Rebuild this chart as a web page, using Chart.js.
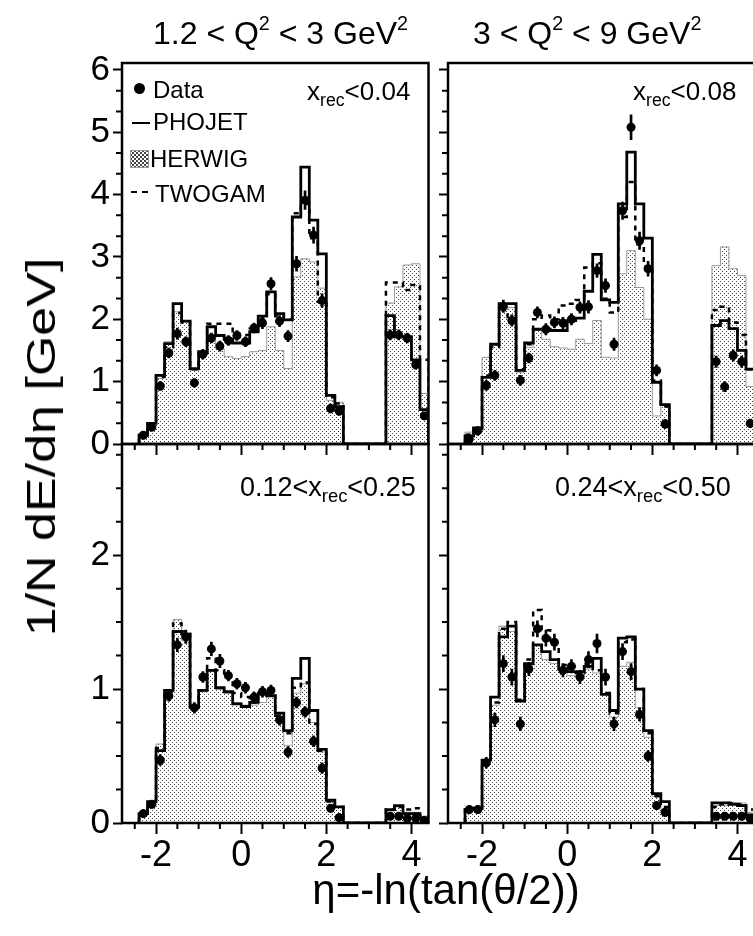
<!DOCTYPE html>
<html>
<head>
<meta charset="utf-8">
<script src="https://cdn.jsdelivr.net/npm/chart.js@4.4.1/dist/chart.umd.min.js"></script>
<style>
  html, body { margin: 0; padding: 0; background: #fff; }
  body { width: 753px; height: 936px; overflow: hidden; position: relative;
         font-family: "Liberation Sans", Arial, sans-serif; color: #000; }
  canvas { position: absolute; }
  .txt { position: absolute; white-space: nowrap; line-height: 1; z-index: 5; }
  .txt sup { font-size: 0.62em; position: relative; top: -0.72em; vertical-align: 0; }
  .txt sub { font-size: 0.68em; position: relative; top: 0.32em; vertical-align: 0; }
  .sw { position: absolute; z-index: 5; }
</style>
</head>
<body>

<canvas id="tl" width="371" height="415" style="left:62px; top:43px"></canvas>
<canvas id="tr" width="325" height="415" style="left:434px; top:43px"></canvas>
<canvas id="bl" width="371" height="459" style="left:62px; top:424px"></canvas>
<canvas id="br" width="325" height="459" style="left:434px; top:424px"></canvas>

<!-- column headings -->
<div class="txt" style="left:153px; top:17px; font-size:32px">1.2 &lt; Q<sup>2</sup> &lt; 3 GeV<sup>2</sup></div>
<div class="txt" style="left:473px; top:17px; font-size:32px">3 &lt; Q<sup>2</sup> &lt; 9 GeV<sup>2</sup></div>

<!-- axis titles -->
<div class="txt" style="left:41px; top:447px; font-size:40px; transform: translate(-50%,-50%) rotate(-90deg) scaleX(1.3);">1/N dE/dη [GeV]</div>
<div class="txt" style="left:446px; top:869px; font-size:42px; transform: translateX(-50%);">η=-ln(tan(θ/2))</div>

<!-- panel labels -->
<div class="txt" style="left:307px; top:78px; font-size:26px">x<sub>rec</sub>&lt;0.04</div>
<div class="txt" style="left:633px; top:78px; font-size:26px">x<sub>rec</sub>&lt;0.08</div>
<div class="txt" style="left:240px; top:474px; font-size:27px">0.12&lt;x<sub>rec</sub>&lt;0.25</div>
<div class="txt" style="left:555px; top:474px; font-size:27px">0.24&lt;x<sub>rec</sub>&lt;0.50</div>

<!-- legend -->
<div class="sw" style="left:134px; top:83px; width:11px; height:11px; border-radius:50%; background:#000"></div>
<div class="txt" style="left:153px; top:78px; font-size:24px">Data</div>
<div class="sw" style="left:132px; top:122px; width:18px; height:2px; background:#000"></div>
<div class="txt" style="left:153px; top:110px; font-size:24px">PHOJET</div>
<div class="sw" style="left:130px; top:150px; width:17px; height:16px; border:1px solid #999;
     background: radial-gradient(circle, #444 30%, transparent 38%) 0 0/4px 4px,
                 radial-gradient(circle, #444 30%, transparent 38%) 2px 2px/4px 4px, #fff;"></div>
<div class="txt" style="left:150px; top:147px; font-size:24px">HERWIG</div>
<div class="sw" style="left:131px; top:191px; width:6px; height:2px; background:#000"></div>
<div class="sw" style="left:142px; top:191px; width:6px; height:2px; background:#000"></div>
<div class="txt" style="left:155px; top:182px; font-size:24px">TWOGAM</div>

<script>
// bin centres in eta: central detector (-2.4..2.4) and forward region (3.4..4.4), width 0.2
const binCentres = [-2.3, -2.1, -1.9, -1.7, -1.5, -1.3, -1.1, -0.9, -0.7, -0.5, -0.3, -0.1,
                    0.1, 0.3, 0.5, 0.7, 0.9, 1.1, 1.3, 1.5, 1.7, 1.9, 2.1, 2.3,
                    3.5, 3.7, 3.9, 4.1, 4.3];
const binWidth = 0.2;

// 1.2 < Q2 < 3, x_rec < 0.04
const tlData   = [0.14, 0.27, 0.93, 1.46, 1.77, 1.64, 0.98, 1.44, 1.70, 1.57, 1.66, 1.74,
                  1.64, 1.86, 1.94, 2.57, 1.97, 1.73, 2.89, 3.91, 3.35, 2.30, 0.57, 0.53,
                  1.75, 1.75, 1.70, 1.27, 0.45];
const tlErr    = [0.06, 0.06, 0.07, 0.08, 0.09, 0.08, 0.07, 0.08, 0.08, 0.08, 0.08, 0.08,
                  0.08, 0.08, 0.09, 0.10, 0.09, 0.09, 0.12, 0.15, 0.13, 0.11, 0.07, 0.07,
                  0.08, 0.08, 0.08, 0.07, 0.06];
const tlPhojet = [0.14, 0.33, 1.10, 1.61, 2.25, 1.97, 1.21, 1.48, 1.88, 1.74, 1.68, 1.62,
                  1.62, 1.80, 2.05, 2.44, 2.09, 1.99, 3.64, 4.44, 3.59, 3.05, 0.78, 0.60,
                  2.06, 1.72, 1.72, 1.35, 0.55];
const tlHerwig = [0.17, 0.33, 1.05, 1.64, 2.12, 1.96, 1.18, 1.48, 1.74, 1.53, 1.40, 1.37,
                  1.40, 1.48, 1.50, 1.88, 1.50, 1.21, 2.68, 2.97, 2.92, 2.50, 0.70, 0.67,
                  2.26, 2.52, 2.87, 2.89, 0.81];
const tlTwogam = [0.15, 0.33, 1.08, 1.55, 2.10, 1.95, 1.20, 1.45, 1.93, 1.93, 1.93, 1.75,
                  1.75, 1.85, 2.00, 2.40, 2.05, 2.00, 3.70, 3.85, 3.30, 2.28, 0.75, 0.65,
                  2.59, 2.59, 2.47, 2.55, 1.35];

// 3 < Q2 < 9, x_rec < 0.08
const trData   = [0.08, 0.21, 0.94, 1.10, 2.21, 1.98, 1.02, 1.38, 2.11, 1.84, 1.95, 1.94,
                  2.00, 2.19, 2.20, 2.78, 2.54, 1.60, 3.74, 5.08, 3.26, 2.81, 1.18, 0.32,
                  1.32, 0.92, 1.42, 1.32, 0.33];
const trErr    = [0.06, 0.07, 0.08, 0.08, 0.10, 0.09, 0.08, 0.08, 0.09, 0.09, 0.09, 0.09,
                  0.09, 0.09, 0.10, 0.11, 0.11, 0.10, 0.14, 0.20, 0.14, 0.12, 0.09, 0.07,
                  0.09, 0.08, 0.09, 0.09, 0.07];
const trPhojet = [0.13, 0.26, 1.07, 1.60, 2.25, 2.25, 1.18, 1.62, 1.84, 1.84, 1.82, 1.82,
                  1.98, 2.02, 2.45, 3.04, 2.31, 2.27, 3.85, 4.68, 3.85, 3.30, 0.99, 0.63,
                  1.90, 1.98, 1.85, 1.50, 1.20];
const trHerwig = [0.19, 0.24, 1.39, 1.60, 2.15, 2.19, 1.15, 1.55, 1.82, 1.68, 1.56, 1.54,
                  1.52, 1.68, 1.61, 1.98, 1.39, 1.38, 2.73, 3.10, 2.51, 2.00, 0.45, 0.64,
                  2.86, 3.16, 2.81, 2.70, 0.92];
const trTwogam = [0.15, 0.24, 1.10, 1.55, 2.15, 1.95, 1.20, 1.60, 2.00, 2.06, 2.00, 2.22,
                  2.25, 2.31, 2.83, 2.90, 2.33, 2.11, 3.64, 4.20, 3.20, 2.85, 1.02, 0.60,
                  2.15, 2.20, 1.95, 1.75, 1.20];

// 1.2 < Q2 < 3, 0.12 < x_rec < 0.25
const blData   = [0.07, 0.14, 0.47, 0.95, 1.33, 1.39, 0.86, 1.09, 1.30, 1.21, 1.10, 1.04,
                  1.01, 0.94, 0.98, 0.99, 0.77, 0.53, 0.90, 0.83, 0.61, 0.41, 0.11, 0.04,
                  0.05, 0.05, 0.035, 0.035, 0.02];
const blErr    = [0.03, 0.03, 0.04, 0.04, 0.05, 0.05, 0.04, 0.04, 0.05, 0.05, 0.04, 0.04,
                  0.04, 0.04, 0.04, 0.04, 0.04, 0.04, 0.04, 0.04, 0.04, 0.04, 0.03, 0.03,
                  0.02, 0.02, 0.02, 0.02, 0.02];
const blPhojet = [0.07, 0.16, 0.54, 0.99, 1.43, 1.41, 0.87, 0.99, 1.14, 1.01, 0.98, 0.89,
                  0.87, 0.90, 0.97, 0.95, 0.82, 0.69, 1.08, 1.23, 0.84, 0.55, 0.17, 0.12,
                  0.10, 0.13, 0.07, 0.07, 0.035];
const blHerwig = [0.06, 0.14, 0.59, 0.99, 1.52, 1.36, 0.85, 0.98, 1.13, 1.00, 0.97, 0.90,
                  0.88, 0.88, 0.90, 0.95, 0.82, 0.58, 0.97, 1.04, 0.75, 0.53, 0.16, 0.12,
                  0.09, 0.12, 0.08, 0.08, 0.04];
const blTwogam = [0.07, 0.15, 0.56, 0.98, 1.49, 1.43, 0.86, 0.99, 1.23, 1.14, 1.09, 0.97,
                  0.94, 0.90, 0.99, 0.95, 0.80, 0.67, 1.01, 1.05, 0.74, 0.54, 0.16, 0.12,
                  0.10, 0.12, 0.10, 0.11, 0.05];

// 3 < Q2 < 9, 0.24 < x_rec < 0.50
const brData   = [0.10, 0.10, 0.45, 0.77, 1.19, 1.09, 0.74, 1.15, 1.45, 1.38, 1.35, 1.14,
                  1.17, 1.09, 1.22, 1.34, 1.09, 0.74, 1.28, 1.13, 0.81, 0.50, 0.13, 0.08,
                  0.05, 0.05, 0.05, 0.05, 0.035];
const brErr    = [0.03, 0.03, 0.04, 0.05, 0.06, 0.06, 0.05, 0.05, 0.06, 0.06, 0.06, 0.05,
                  0.05, 0.05, 0.06, 0.07, 0.06, 0.05, 0.06, 0.06, 0.05, 0.04, 0.03, 0.03,
                  0.02, 0.02, 0.02, 0.02, 0.02];
const brPhojet = [0.10, 0.11, 0.47, 0.94, 1.39, 1.47, 0.91, 1.19, 1.33, 1.28, 1.22, 1.15,
                  1.13, 1.13, 1.17, 1.23, 0.96, 0.84, 1.38, 1.39, 1.00, 0.69, 0.22, 0.16,
                  0.15, 0.15, 0.14, 0.13, 0.06];
const brHerwig = [0.10, 0.11, 0.46, 0.88, 1.47, 1.43, 0.92, 1.17, 1.33, 1.22, 1.19, 1.16,
                  1.10, 1.09, 1.15, 1.12, 0.96, 0.79, 1.17, 1.20, 0.86, 0.64, 0.20, 0.10,
                  0.13, 0.13, 0.15, 0.15, 0.08];
const brTwogam = [0.10, 0.11, 0.46, 0.90, 1.45, 1.50, 0.92, 1.22, 1.59, 1.44, 1.34, 1.18,
                  1.17, 1.12, 1.19, 1.14, 0.97, 0.82, 1.35, 1.37, 1.00, 0.67, 0.20, 0.12,
                  0.12, 0.14, 0.15, 0.14, 0.10];

const FONT = "'Liberation Sans', Arial, sans-serif";

// outline of a histogram through the bin edges, dropping to 0 at the gap
function stepPoints(values) {
  const pts = [];
  let prevHi = null;
  for (let i = 0; i < binCentres.length; i++) {
    const lo = binCentres[i] - binWidth / 2;
    if (prevHi === null || Math.abs(prevHi - lo) > 1e-6) {
      if (prevHi !== null) pts.push({ x: prevHi, y: 0 });
      pts.push({ x: lo, y: 0 });
    }
    pts.push({ x: lo, y: values[i] });
    prevHi = binCentres[i] + binWidth / 2;
  }
  pts.push({ x: prevHi, y: 0 });
  return pts;
}

function dotPattern() {
  const c = document.createElement('canvas');
  c.width = 4; c.height = 4;
  const g = c.getContext('2d');
  g.fillStyle = '#fff'; g.fillRect(0, 0, 4, 4);
  g.fillStyle = '#444';
  g.fillRect(0, 0, 1, 1);
  g.fillRect(2, 2, 1, 1);
  return g.createPattern(c, 'repeat');
}

// frame box + minor ticks
const framePlugin = {
  id: 'frame',
  afterDraw(chart, args, opts) {
    const { ctx, chartArea: a, scales: { x, y } } = chart;
    ctx.save();
    ctx.strokeStyle = '#000';
    ctx.lineWidth = 2;
    ctx.beginPath();
    for (let k = Math.ceil(x.min / opts.xMinor); k * opts.xMinor <= x.max + 1e-9; k++) {
      const v = k * opts.xMinor;
      if (Math.abs(v / 2 - Math.round(v / 2)) < 1e-6) continue;
      const px = x.getPixelForValue(v);
      ctx.moveTo(px, a.bottom);
      ctx.lineTo(px, a.bottom + 6);
    }
    for (let k = 1; k * opts.yMinor <= y.max + 1e-9; k++) {
      const v = k * opts.yMinor;
      if (Math.abs(v - Math.round(v)) < 1e-6) continue;
      const py = y.getPixelForValue(v);
      ctx.moveTo(a.left, py);
      ctx.lineTo(a.left - 6, py);
    }
    ctx.stroke();
    ctx.lineWidth = 2.5;
    ctx.strokeRect(a.left, a.top, a.right - a.left, a.bottom - a.top);
    ctx.restore();
  }
};

function makePanel(id, p) {
  const ctx = document.getElementById(id);
  const pattern = dotPattern();
  return new Chart(ctx, {
    type: 'scatter',
    data: {
      datasets: [
        { type: 'line', label: 'HERWIG', data: stepPoints(p.herwig), stepped: true,
          borderColor: '#999', borderWidth: 1, backgroundColor: pattern, fill: 'origin',
          pointRadius: 0, order: 4 },
        { type: 'line', label: 'TWOGAM', data: stepPoints(p.twogam), stepped: true,
          borderColor: '#000', borderWidth: 2.5, borderDash: [5, 5], fill: false,
          pointRadius: 0, order: 3 },
        { type: 'line', label: 'PHOJET', data: stepPoints(p.phojet), stepped: true,
          borderColor: '#000', borderWidth: 2.8, fill: false, pointRadius: 0, order: 2 },
        { type: 'bar', label: 'err',
          data: binCentres.map((x, i) => ({ x: x, y: [p.data[i] - p.err[i], p.data[i] + p.err[i]] })),
          backgroundColor: '#000', barThickness: 2, order: 1 },
        { type: 'scatter', label: 'Data',
          data: binCentres.map((x, i) => ({ x: x, y: p.data[i] })),
          pointRadius: 4.5, backgroundColor: '#000', borderWidth: 0, order: 0 }
      ]
    },
    options: {
      responsive: false,
      animation: false,
      devicePixelRatio: 1,
      events: [],
      layout: { padding: { top: 20, right: 4, left: 0, bottom: 0 } },
      plugins: {
        legend: { display: false },
        tooltip: { enabled: false },
        frame: { xMinor: 0.5, yMinor: p.yMinor }
      },
      scales: {
        x: {
          type: 'linear', min: -2.8, max: 4.4, offset: false,
          ticks: { display: p.xLabels, stepSize: 2, includeBounds: false, autoSkip: false,
                   maxRotation: 0, color: '#000', padding: 0,
                   font: { family: FONT, size: 36 }, callback: v => String(v) },
          grid: { drawOnChartArea: false, offset: false, tickLength: 11, tickWidth: 2, tickColor: '#000' },
          border: { display: false },
          afterFit(s) { s.height = p.xLabels ? 60 : 14; s.paddingLeft = 0; s.paddingRight = 0; }
        },
        y: {
          min: 0, max: p.yMax,
          ticks: { display: p.yLabels, stepSize: 1, includeBounds: false, color: '#000', padding: 3,
                   font: { family: FONT, size: 35 }, callback: v => String(v) },
          grid: { drawOnChartArea: false, tickLength: 9, tickWidth: 2, tickColor: '#000' },
          border: { display: false },
          afterFit(s) { s.width = p.yLabels ? 60 : 14; s.paddingTop = 0; s.paddingBottom = 0; }
        }
      }
    },
    plugins: [framePlugin]
  });
}

makePanel('tl', { data: tlData, err: tlErr, phojet: tlPhojet, herwig: tlHerwig, twogam: tlTwogam,
                  yMax: 6.11, yMinor: 1 / 3, xLabels: false, yLabels: true });
makePanel('tr', { data: trData, err: trErr, phojet: trPhojet, herwig: trHerwig, twogam: trTwogam,
                  yMax: 6.11, yMinor: 1 / 3, xLabels: false, yLabels: false });
makePanel('bl', { data: blData, err: blErr, phojet: blPhojet, herwig: blHerwig, twogam: blTwogam,
                  yMax: 2.83, yMinor: 0.25, xLabels: true, yLabels: true });
makePanel('br', { data: brData, err: brErr, phojet: brPhojet, herwig: brHerwig, twogam: brTwogam,
                  yMax: 2.83, yMinor: 0.25, xLabels: true, yLabels: false });
</script>
</body>
</html>
